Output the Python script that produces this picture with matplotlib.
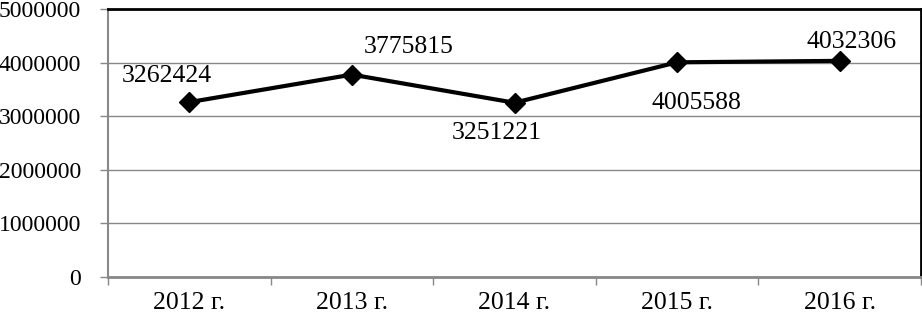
import matplotlib.pyplot as plt

years = ["2012 г.", "2013 г.", "2014 г.", "2015 г.", "2016 г."]
values = [3262424, 3775815, 3251221, 4005588, 4032306]
# label offsets in pixels (dx, dy)
offsets = [(-22, 26), (57, 28), (-18, -30), (19, -41), (12, 19)]

plt.rcParams['font.family'] = ['Liberation Serif', 'DejaVu Serif']
plt.rcParams['font.size'] = 18.5

fig = plt.figure(figsize=(9.22, 3.16), dpi=100)
ax = fig.add_axes([108 / 922, 1 - 277 / 316, 813 / 922, 268 / 316])

x = list(range(len(years)))
ax.plot(x, values, color="black", lw=3, marker="D", markersize=10, zorder=3)

for i, v in enumerate(values):
    ax.annotate(str(v), (x[i], v), xytext=offsets[i], textcoords="offset pixels",
                ha="center", va="center")

ax.set_xlim(-0.5, 4.5)
ax.set_ylim(0, 5000000)
ax.set_yticks(range(0, 5000001, 1000000))
ax.set_yticklabels([str(t) for t in range(0, 5000001, 1000000)])
ax.set_xticks(x)
ax.set_xticklabels(years)
ax.tick_params(axis="x", which="major", length=0, pad=11)
ax.set_xticks([i - 0.5 for i in range(len(years) + 1)], minor=True)
ax.tick_params(axis="x", which="minor", length=6, color="#888888", width=1)
ax.tick_params(axis="y", length=6, color="#888888", width=1, pad=13.5, labelsize=17)

ax.grid(axis="y", color="#888888", lw=1)
ax.set_axisbelow(True)

ax.spines["left"].set_color("#888888")
ax.spines["left"].set_linewidth(1.5)
ax.spines["bottom"].set_color("#888888")
ax.spines["bottom"].set_linewidth(2)
ax.spines["top"].set_color("black")
ax.spines["top"].set_linewidth(2)
ax.spines["right"].set_color("black")
ax.spines["right"].set_linewidth(2)

fig.savefig("out.png", dpi=100)
